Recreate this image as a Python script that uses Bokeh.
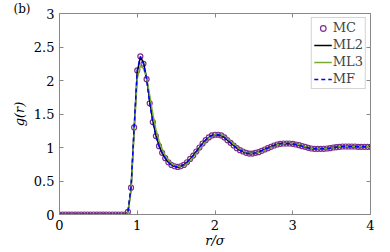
from bokeh.plotting import figure
from bokeh.models import (ColumnDataSource, FixedTicker, CustomJSTickFormatter, LinearAxis,
                          Range1d, Legend, LegendItem, Title)
from bokeh.embed import file_html
from bokeh.resources import INLINE

# r/sigma grid (step 0.04)
r = [round(i * 0.04, 2) for i in range(101)]

g_mc = [0.0] * 22 + [
    0.04, 0.40, 1.30, 2.15, 2.36, 2.25, 2.02, 1.66, 1.38, 1.17,
    1.02, 0.92, 0.84, 0.78, 0.74, 0.72, 0.71, 0.72, 0.74, 0.78,
    0.83, 0.88, 0.94, 1.00, 1.06, 1.11, 1.15, 1.18, 1.19, 1.19,
    1.18, 1.15, 1.11, 1.07, 1.03, 0.99, 0.96, 0.94, 0.92, 0.91,
    0.91, 0.92, 0.93, 0.95, 0.97, 0.99, 1.01, 1.03, 1.045, 1.055,
    1.06, 1.06, 1.06, 1.055, 1.045, 1.035, 1.02, 1.01, 0.995, 0.985,
    0.98, 0.98, 0.98, 0.98, 0.985, 0.99, 1.00, 1.005, 1.01, 1.015,
    1.015, 1.015, 1.015, 1.015, 1.01, 1.01, 1.01, 1.01, 1.01]

g_ml2 = [0.0] * 22 + [
    0.03, 0.38, 1.28, 2.13, 2.35, 2.27, 2.04, 1.70, 1.40, 1.18,
    1.03, 0.92, 0.84, 0.78, 0.74, 0.72, 0.71, 0.72, 0.74, 0.78,
    0.83, 0.88, 0.94, 1.00, 1.06, 1.11, 1.15, 1.18, 1.19, 1.19,
    1.18, 1.15, 1.11, 1.07, 1.03, 0.99, 0.96, 0.94, 0.92, 0.91,
    0.91, 0.92, 0.93, 0.95, 0.97, 0.99, 1.01, 1.03, 1.045, 1.055,
    1.06, 1.06, 1.06, 1.055, 1.045, 1.035, 1.02, 1.01, 0.995, 0.985,
    0.98, 0.98, 0.98, 0.98, 0.985, 0.99, 1.00, 1.005, 1.01, 1.015,
    1.015, 1.015, 1.015, 1.015, 1.01, 1.01, 1.01, 1.01, 1.01]

g_ml3 = [0.0] * 22 + [
    0.03, 0.36, 1.22, 2.03, 2.22, 2.18, 2.04, 1.78, 1.50, 1.27,
    1.10, 0.98, 0.88, 0.81, 0.76, 0.73, 0.72, 0.72, 0.73, 0.76,
    0.81, 0.86, 0.92, 0.98, 1.04, 1.09, 1.14, 1.17, 1.19, 1.20,
    1.19, 1.17, 1.13, 1.09, 1.05, 1.01, 0.97, 0.95, 0.93, 0.92,
    0.91, 0.92, 0.93, 0.94, 0.96, 0.98, 1.00, 1.02, 1.04, 1.05,
    1.06, 1.065, 1.065, 1.06, 1.05, 1.04, 1.025, 1.015, 1.00, 0.99,
    0.98, 0.98, 0.98, 0.98, 0.98, 0.99, 0.995, 1.005, 1.01, 1.015,
    1.015, 1.02, 1.015, 1.015, 1.01, 1.01, 1.01, 1.01, 1.01]

g_mf = list(g_mc)

x_ticks = [0, 1, 2, 3, 4]
y_ticks = [0, 0.5, 1, 1.5, 2, 2.5, 3]

FONT = "DejaVu Serif"
AX_COL = "#888888"

p = figure(width=390, height=252, output_backend="svg", toolbar_location=None,
           x_range=Range1d(0, 4), y_range=Range1d(0, 3),
           min_border_left=59, min_border_right=20, min_border_top=13, min_border_bottom=38)
p.outline_line_color = None
p.xgrid.visible = False
p.ygrid.visible = False

src = ColumnDataSource(dict(r=r, mc=g_mc, ml2=g_ml2, ml3=g_ml3, mf=g_mf))
r_mc = p.scatter("r", "mc", source=src, size=5, marker="circle", fill_color=None,
                 line_color="#7E2F8E", line_width=1.2)
r_ml2 = p.line("r", "ml2", source=src, line_color="black", line_width=1.5)
r_ml3 = p.line("r", "ml3", source=src, line_color="#77AC30", line_width=1.5)
r_mf = p.line("r", "mf", source=src, line_color="#0000FF", line_width=1.5, line_dash="4 3")

fmt = CustomJSTickFormatter(code="return tick.toString();")

def style(ax, labels=True):
    ax.axis_line_color = AX_COL
    ax.major_tick_line_color = AX_COL
    ax.major_tick_in = 4
    ax.major_tick_out = 0
    ax.minor_tick_line_color = None
    ax.major_label_text_font = FONT
    ax.major_label_text_font_size = "13px"
    ax.major_label_text_color = "black"
    ax.axis_label_text_font = FONT
    ax.axis_label_text_font_style = "italic"
    ax.axis_label_text_font_size = "13px"
    ax.axis_label_text_color = "black"
    if not labels:
        ax.major_label_text_font_size = "0px"
        ax.major_label_text_color = None

p.xaxis.ticker = FixedTicker(ticks=x_ticks)
p.yaxis.ticker = FixedTicker(ticks=y_ticks)
p.xaxis.formatter = fmt
p.yaxis.formatter = fmt
p.xaxis.axis_label = "r/σ"
p.yaxis.axis_label = "g(r)"
style(p.xaxis[0])
style(p.yaxis[0])
p.xaxis.major_label_standoff = 5
p.xaxis.axis_label_standoff = 0
p.yaxis.major_label_standoff = 5
p.yaxis.axis_label_standoff = 4

top = LinearAxis(ticker=FixedTicker(ticks=x_ticks), formatter=fmt)
right = LinearAxis(ticker=FixedTicker(ticks=y_ticks), formatter=fmt)
style(top, labels=False)
style(right, labels=False)
top.major_label_standoff = 0
right.major_label_standoff = 0
p.add_layout(right, "right")
p.add_layout(top, "above")

panel = Title(text="(b)", align="left", offset=-46, standoff=-6,
              text_font=FONT, text_font_size="12px", text_font_style="normal",
              text_color="black", vertical_align="middle")
p.add_layout(panel, "above")

legend = Legend(items=[
    LegendItem(label="MC", renderers=[r_mc]),
    LegendItem(label="ML2", renderers=[r_ml2]),
    LegendItem(label="ML3", renderers=[r_ml3]),
    LegendItem(label="MF", renderers=[r_mf]),
], location="top_right")
legend.label_text_font = FONT
legend.label_text_font_size = "13px"
legend.label_standoff = 1
legend.glyph_width = 18
legend.glyph_height = 14
legend.label_height = 14
legend.spacing = 2
legend.padding = 2
legend.margin = 4
legend.border_line_color = "#aaaaaa"
legend.background_fill_alpha = 1.0
p.add_layout(legend)

open("out.html", "w").write(file_html(p, INLINE))
